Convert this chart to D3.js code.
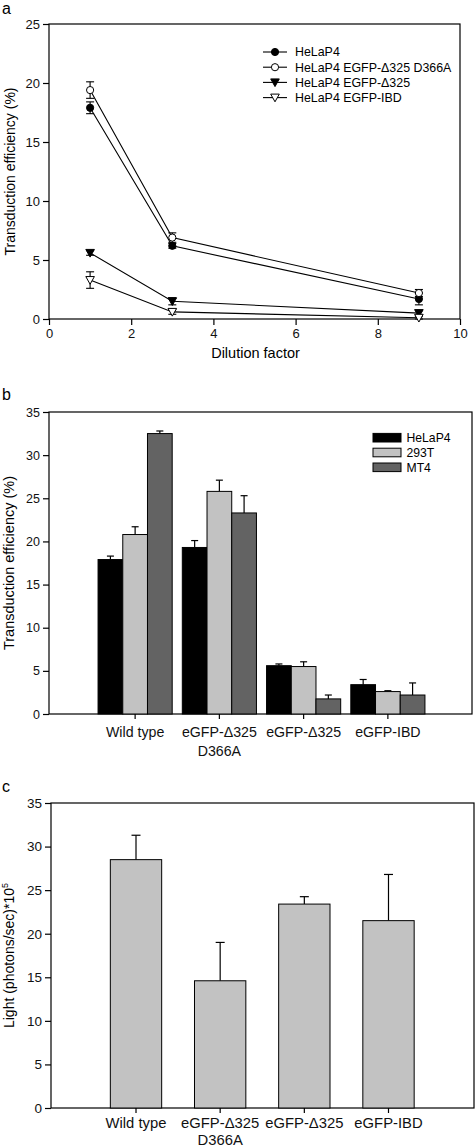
<!DOCTYPE html>
<html><head><meta charset="utf-8">
<script src="https://cdn.jsdelivr.net/npm/d3@7"></script>
<style>
body{margin:0;background:#fff;}
svg{display:block;font-family:"Liberation Sans",Arial,sans-serif;}
</style></head>
<body><svg id="chart" width="475" height="1147"></svg>
<script>
// ---------- Panel a data ----------
const dilution = [1, 3, 9];
const seriesNamesA = ["HeLaP4", "HeLaP4 EGFP-\u0394325 D366A", "HeLaP4 EGFP-\u0394325", "HeLaP4 EGFP-IBD"];
const helaP4A = [17.9, 6.2, 1.7];
const helaP4AErr = [0.5, 0.2, 0.5];
const d366aA = [19.4, 6.9, 2.2];
const d366aAErr = [0.7, 0.4, 0.3];
const d325A = [5.6, 1.5, 0.5];
const d325AErr = [0.2, 0.3, 0.2];
const ibdA = [3.3, 0.6, 0.1];
const ibdAErr = [0.7, 0.2, 0.1];
const xTicksA = [0, 2, 4, 6, 8, 10];
const yTicksA = [0, 5, 10, 15, 20, 25];

// ---------- Panel b data ----------
const constructsB = ["Wild type", "eGFP-\u0394325|D366A", "eGFP-\u0394325", "eGFP-IBD"];
const cellLines = ["HeLaP4", "293T", "MT4"];
const helaP4B = [17.9, 19.3, 5.6, 3.4];
const helaP4BErr = [0.4, 0.8, 0.2, 0.6];
const t293B = [20.8, 25.8, 5.5, 2.6];
const t293BErr = [0.9, 1.3, 0.55, 0.1];
const mt4B = [32.5, 23.3, 1.75, 2.2];
const mt4BErr = [0.3, 2.0, 0.45, 1.4];
const yTicksB = [0, 5, 10, 15, 20, 25, 30, 35];

// ---------- Panel c data ----------
const constructsC = ["Wild type", "eGFP-\u0394325|D366A", "eGFP-\u0394325", "eGFP-IBD"];
const lightC = [28.5, 14.6, 23.4, 21.5];
const lightCErr = [2.8, 4.4, 0.85, 5.3];
const yTicksC = [0, 5, 10, 15, 20, 25, 30, 35];

const svg = d3.select("#chart");
const FONT = "'Liberation Sans', Arial, sans-serif";

function frame(g, L, R, T, B) {
  g.append("rect").attr("x", L).attr("y", T).attr("width", R - L).attr("height", B - T)
    .attr("fill", "none").attr("stroke", "#000").attr("stroke-width", 1.2);
}
function yAxis(g, y, L, ticks, fs) {
  const ax = g.append("g").attr("transform", `translate(${L},0)`)
    .call(d3.axisLeft(y).tickValues(ticks).tickSize(6).tickPadding(3).tickSizeOuter(0));
  ax.select(".domain").remove();
  ax.selectAll("line").attr("stroke", "#000").attr("stroke-width", 1.2);
  ax.selectAll("text").attr("font-size", fs).attr("font-family", FONT).attr("fill", "#111");
}
function panelLabel(txt, x, y) {
  svg.append("text").attr("x", x).attr("y", y).text(txt)
    .attr("font-size", 16).attr("font-family", FONT).attr("fill", "#000");
}

// =============== Panel a ===============
(function () {
  const L = 49, R = 460, T = 24, B = 319;
  const g = svg.append("g");
  const x = d3.scaleLinear().domain([0, 10]).range([L, R]);
  const y = d3.scaleLinear().domain([0, 25]).range([B, T]);
  frame(g, L, R, T, B);
  yAxis(g, y, L, yTicksA, 13);
  const xa = g.append("g").attr("transform", `translate(0,${B})`)
    .call(d3.axisBottom(x).tickValues(xTicksA).tickSize(6).tickPadding(4).tickSizeOuter(0));
  xa.select(".domain").remove();
  xa.selectAll("line").attr("stroke", "#000").attr("stroke-width", 1.2);
  xa.selectAll("text").attr("font-size", 13).attr("font-family", FONT).attr("fill", "#111");

  g.append("text").attr("transform", `translate(15,${(T + B) / 2}) rotate(-90)`)
    .attr("text-anchor", "middle").attr("font-size", 14).attr("font-family", FONT)
    .text("Transduction efficiency (%)");
  g.append("text").attr("x", (L + R) / 2 + 1).attr("y", 358).attr("text-anchor", "middle")
    .attr("font-size", 14.5).attr("font-family", FONT).text("Dilution factor");

  const series = [
    { name: seriesNamesA[0], v: helaP4A, e: helaP4AErr, shape: "circle", fill: "#000" },
    { name: seriesNamesA[1], v: d366aA, e: d366aAErr, shape: "circle", fill: "#fff" },
    { name: seriesNamesA[2], v: d325A, e: d325AErr, shape: "tri", fill: "#000" },
    { name: seriesNamesA[3], v: ibdA, e: ibdAErr, shape: "tri", fill: "#fff" }
  ];
  const line = d3.line().x(d => x(d[0])).y(d => y(d[1]));
  function marker(sel, s, cx, cy) {
    if (s.shape === "circle") {
      sel.append("circle").attr("cx", cx).attr("cy", cy).attr("r", 3.6)
        .attr("fill", s.fill).attr("stroke", "#000").attr("stroke-width", 1);
    } else {
      sel.append("path").attr("transform", `translate(${cx},${cy})`)
        .attr("d", "M-4.3,-3.5L4.3,-3.5L0,4.2Z")
        .attr("fill", s.fill).attr("stroke", "#000").attr("stroke-width", 1);
    }
  }
  series.forEach(s => {
    const pts = dilution.map((d, i) => [d, s.v[i], s.e[i]]);
    g.append("path").attr("d", line(pts)).attr("fill", "none").attr("stroke", "#000").attr("stroke-width", 1.1);
  });
  series.forEach(s => {
    dilution.forEach((d, i) => {
      const cx = x(d), y1 = y(s.v[i] + s.e[i]), y0 = y(Math.max(0, s.v[i] - s.e[i]));
      g.append("line").attr("x1", cx).attr("x2", cx).attr("y1", y1).attr("y2", y0).attr("stroke", "#000").attr("stroke-width", 1.1);
      [y1, y0].forEach(yy => g.append("line").attr("x1", cx - 4).attr("x2", cx + 4).attr("y1", yy).attr("y2", yy).attr("stroke", "#000").attr("stroke-width", 1.1));
    });
  });
  series.forEach(s => dilution.forEach((d, i) => marker(g, s, x(d), y(s.v[i]))));

  // legend
  series.forEach((s, i) => {
    const ly = 52 + i * 15.2;
    g.append("line").attr("x1", 263).attr("x2", 287).attr("y1", ly).attr("y2", ly).attr("stroke", "#000").attr("stroke-width", 1.1);
    marker(g, s, 275, ly);
    g.append("text").attr("x", 295).attr("y", ly + 4.4).attr("font-size", 12.4).attr("font-family", FONT).text(s.name);
  });
  panelLabel("a", 2, 14);
})();

function catLabels(g, x, cats, yBase, fs, lineGap) {
  cats.forEach(c => {
    const parts = c.split("|");
    const t = g.append("text").attr("text-anchor", "middle").attr("font-size", fs).attr("font-family", FONT).attr("fill", "#111");
    parts.forEach((p, k) => t.append("tspan").attr("x", x(c) + x.bandwidth() / 2).attr("y", yBase + k * lineGap).text(p));
  });
}

// =============== Panel b ===============
(function () {
  const L = 49, R = 472, T = 412, B = 714;
  const g = svg.append("g");
  const x = d3.scaleBand().domain(constructsB).range([93, 430]).paddingInner(0.12).paddingOuter(0.06);
  const xs = d3.scaleBand().domain(cellLines).range([0, x.bandwidth()]);
  const y = d3.scaleLinear().domain([0, 35]).range([B, T]);
  const colors = ["#000000", "#c2c2c2", "#636363"];
  const vals = [helaP4B, t293B, mt4B], errs = [helaP4BErr, t293BErr, mt4BErr];
  frame(g, L, R, T, B);
  yAxis(g, y, L, yTicksB, 12.5);
  constructsB.forEach((c, ci) => {
    const cx = x(c) + x.bandwidth() / 2;
    g.append("line").attr("x1", cx).attr("x2", cx).attr("y1", B).attr("y2", B + 5).attr("stroke", "#000").attr("stroke-width", 1.2);
    cellLines.forEach((cl, si) => {
      const v = vals[si][ci], e = errs[si][ci];
      const bx = x(c) + xs(cl), bw = xs.bandwidth();
      const mx = bx + bw / 2;
      g.append("line").attr("x1", mx).attr("x2", mx).attr("y1", y(v)).attr("y2", y(v + e)).attr("stroke", "#000").attr("stroke-width", 1.2);
      g.append("line").attr("x1", mx - 3.5).attr("x2", mx + 3.5).attr("y1", y(v + e)).attr("y2", y(v + e)).attr("stroke", "#000").attr("stroke-width", 1.2);
      g.append("rect").attr("x", bx).attr("y", y(v)).attr("width", bw).attr("height", B - y(v))
        .attr("fill", colors[si]).attr("stroke", "#000").attr("stroke-width", 1);
    });
  });
  g.append("text").attr("transform", `translate(14,${(T + B) / 2}) rotate(-90)`)
    .attr("text-anchor", "middle").attr("font-size", 14.5).attr("font-family", FONT)
    .text("Transduction efficiency (%)");
  catLabels(g, x, constructsB, 737, 14.2, 18.5);
  cellLines.forEach((cl, i) => {
    const ly = 437.7 + i * 14.8;
    g.append("rect").attr("x", 373).attr("y", ly - 4.3).attr("width", 28).attr("height", 8.6)
      .attr("fill", colors[i]).attr("stroke", "#000").attr("stroke-width", 1);
    g.append("text").attr("x", 406.5).attr("y", ly + 4.4).attr("font-size", 12.2).attr("font-family", FONT).text(cl);
  });
  panelLabel("b", 2, 400);
})();

// =============== Panel c ===============
(function () {
  const L = 51, R = 474, T = 803, B = 1108;
  const g = svg.append("g");
  const x = d3.scaleBand().domain(constructsC).range([93.5, 431]).paddingInner(0.39).paddingOuter(0.2);
  const y = d3.scaleLinear().domain([0, 35]).range([B, T]);
  frame(g, L, R, T, B);
  yAxis(g, y, L, yTicksC, 13.5);
  constructsC.forEach((c, ci) => {
    const cx = x(c) + x.bandwidth() / 2;
    const v = lightC[ci], e = lightCErr[ci];
    g.append("line").attr("x1", cx).attr("x2", cx).attr("y1", B).attr("y2", B + 5).attr("stroke", "#000").attr("stroke-width", 1.2);
    g.append("line").attr("x1", cx).attr("x2", cx).attr("y1", y(v)).attr("y2", y(v + e)).attr("stroke", "#000").attr("stroke-width", 1.2);
    g.append("line").attr("x1", cx - 4.5).attr("x2", cx + 4.5).attr("y1", y(v + e)).attr("y2", y(v + e)).attr("stroke", "#000").attr("stroke-width", 1.2);
    g.append("rect").attr("x", x(c)).attr("y", y(v)).attr("width", x.bandwidth()).attr("height", B - y(v))
      .attr("fill", "#c2c2c2").attr("stroke", "#000").attr("stroke-width", 1);
  });
  const t = g.append("text").attr("transform", `translate(14,${(T + B) / 2}) rotate(-90)`)
    .attr("text-anchor", "middle").attr("font-size", 14).attr("font-family", FONT);
  t.append("tspan").text("Light (photons/sec)*10");
  t.append("tspan").attr("font-size", 9).attr("dy", -6).text("5");
  catLabels(g, x, constructsC, 1128, 14.8, 16.5);
  panelLabel("c", 2, 792);
})();
</script></body></html>
